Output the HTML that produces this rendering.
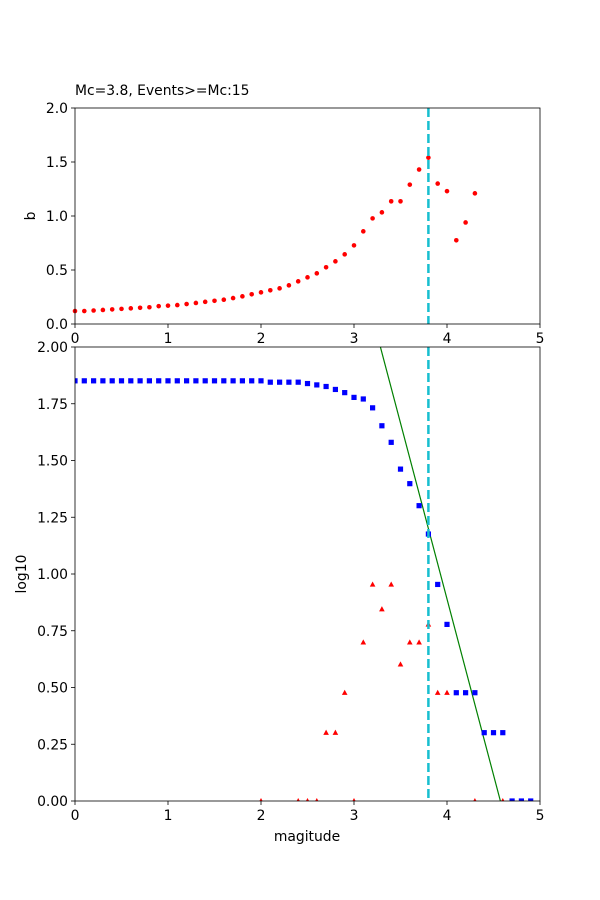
<!DOCTYPE html>
<html><head><meta charset="utf-8"><style>
body{margin:0;background:#fff}
svg{display:block;font-family:"DejaVu Sans","Liberation Sans",sans-serif}
</style></head><body>
<svg id="fig" width="600" height="900" viewBox="0 0 600 900">
<rect width="600" height="900" fill="#fff"/>
<g id="top"></g>
<g id="bot"></g>
</svg>
<script>
const bMags=[0,0.1,0.2,0.3,0.4,0.5,0.6,0.7,0.8,0.9,1.0,1.1,1.2,1.3,1.4,1.5,1.6,1.7,1.8,1.9,2.0,2.1,2.2,2.3,2.4,2.5,2.6,2.7,2.8,2.9,3.0,3.1,3.2,3.3,3.4,3.5,3.6,3.7,3.8,3.9,4.0,4.1,4.2,4.3];
const bValues=[0.12,0.12,0.125,0.13,0.135,0.14,0.145,0.15,0.155,0.165,0.17,0.175,0.185,0.195,0.205,0.215,0.225,0.24,0.256,0.275,0.293,0.312,0.33,0.358,0.395,0.432,0.469,0.525,0.58,0.645,0.728,0.858,0.978,1.034,1.136,1.136,1.29,1.43,1.54,1.30,1.23,0.775,0.94,1.21];
const cumMags=[0,0.1,0.2,0.3,0.4,0.5,0.6,0.7,0.8,0.9,1.0,1.1,1.2,1.3,1.4,1.5,1.6,1.7,1.8,1.9,2.0,2.1,2.2,2.3,2.4,2.5,2.6,2.7,2.8,2.9,3.0,3.1,3.2,3.3,3.4,3.5,3.6,3.7,3.8,3.9,4.0,4.1,4.2,4.3,4.4,4.5,4.6,4.7,4.8,4.9];
const cumLog=[1.851,1.851,1.851,1.851,1.851,1.851,1.851,1.851,1.851,1.851,1.851,1.851,1.851,1.851,1.851,1.851,1.851,1.851,1.851,1.851,1.851,1.845,1.845,1.845,1.845,1.839,1.833,1.826,1.813,1.799,1.778,1.771,1.732,1.653,1.580,1.462,1.398,1.301,1.176,0.954,0.778,0.477,0.477,0.477,0.301,0.301,0.301,0,0,0];
const incMags=[2.0,2.4,2.5,2.6,2.7,2.8,2.9,3.0,3.1,3.2,3.3,3.4,3.5,3.6,3.7,3.8,3.9,4.0,4.3,4.6];
const incLog=[0,0,0,0,0.301,0.301,0.477,0,0.699,0.954,0.845,0.954,0.602,0.699,0.699,0.778,0.477,0.477,0,0];
const Mc=3.8, fitA=7.09, fitB=1.55;
const topTicks=["0.0","0.5","1.0","1.5","2.0"], topTickVals=[0,0.5,1,1.5,2];
const botTicks=["0.00","0.25","0.50","0.75","1.00","1.25","1.50","1.75","2.00"], botTickVals=[0,0.25,0.5,0.75,1,1.25,1.5,1.75,2];
const xTicks=["0","1","2","3","4","5"], xTickVals=[0,1,2,3,4,5];

const NS="http://www.w3.org/2000/svg";
const FS=13.9;
function mk(p,t,a){const e=document.createElementNS(NS,t);for(const k in a)e.setAttribute(k,a[k]);p.appendChild(e);return e;}
const L=75,R=540;
const X=m=>L+(R-L)*m/5;
function axes(g,T,B,ymax,tv,tl,name){
  const Y=v=>B-(B-T)*v/ymax;
  const bg=mk(g,'rect',{x:L,y:T,width:R-L,height:B-T,fill:'#fff'});
  
  
  xTickVals.forEach((v,i)=>{
    mk(g,'line',{x1:X(v),x2:X(v),y1:B,y2:B+4,stroke:'#000','stroke-width':0.8});
    const t=mk(g,'text',{x:X(v),y:B+19,'font-size':FS,'text-anchor':'middle'});t.textContent=xTicks[i];
    
    
  });
  tv.forEach((v,i)=>{
    mk(g,'line',{x1:L-4,x2:L,y1:Y(v),y2:Y(v),stroke:'#000','stroke-width':0.8});
    const t=mk(g,'text',{x:L-7,y:Y(v)+5,'font-size':FS,'text-anchor':'end'});t.textContent=tl[i];
    
    
  });
  return Y;
}
function frame(g,T,B){mk(g,'rect',{x:L,y:T,width:R-L,height:B-T,fill:'none',stroke:'#000','stroke-width':0.8});}

const gt=document.getElementById('top');
const T1=108,B1=324;
const Y1=axes(gt,T1,B1,2,topTickVals,topTicks,'b-value');
bMags.forEach((m,i)=>{
  const c=mk(gt,'circle',{cx:X(m),cy:Y1(bValues[i]),r:2.3,fill:'#f00'});
  
  
});
let mc=mk(gt,'line',{x1:X(Mc),x2:X(Mc),y1:T1,y2:B1,stroke:'#17becf','stroke-width':2.5,'stroke-dasharray':'9,4'});


frame(gt,T1,B1);
let tt=mk(gt,'text',{x:75,y:95,'font-size':FS});tt.textContent='Mc=3.8, Events>=Mc:15';


let yl=mk(gt,'text',{x:35,y:216,'font-size':FS,'text-anchor':'middle',transform:'rotate(-90 35 216)'});yl.textContent='b';



const gb=document.getElementById('bot');
const T2=347,B2=801;
const Y2=axes(gb,T2,B2,2,botTickVals,botTicks,'log10');
const clip=mk(gb,'clipPath',{id:'cp'});mk(clip,'rect',{x:L,y:T2,width:R-L,height:B2-T2});
const inner=mk(gb,'g',{'clip-path':'url(#cp)'});
const fx1=(fitA-2)/fitB, fx2=fitA/fitB;
let fl=mk(inner,'line',{x1:X(fx1),y1:Y2(2),x2:X(fx2),y2:Y2(0),stroke:'#008000','stroke-width':1.2});


cumMags.forEach((m,i)=>{
  const s=mk(inner,'rect',{x:X(m)-2.6,y:Y2(cumLog[i])-2.6,width:5.2,height:5.2,fill:'#00f'});
  
  
});
incMags.forEach((m,i)=>{
  const x=X(m),y=Y2(incLog[i]);
  const p=mk(inner,'polygon',{points:`${x},${y-3} ${x-2.8},${y+2.2} ${x+2.8},${y+2.2}`,fill:'#f00'});
  
  
});
mc=mk(gb,'line',{x1:X(Mc),x2:X(Mc),y1:T2,y2:B2,stroke:'#17becf','stroke-width':2.5,'stroke-dasharray':'9,4'});


frame(gb,T2,B2);
yl=mk(gb,'text',{x:26,y:574,'font-size':FS,'text-anchor':'middle',transform:'rotate(-90 26 574)'});yl.textContent='log10';


let xl=mk(gb,'text',{x:307,y:841,'font-size':FS,'text-anchor':'middle'});xl.textContent='magitude';


</script>
</body></html>
